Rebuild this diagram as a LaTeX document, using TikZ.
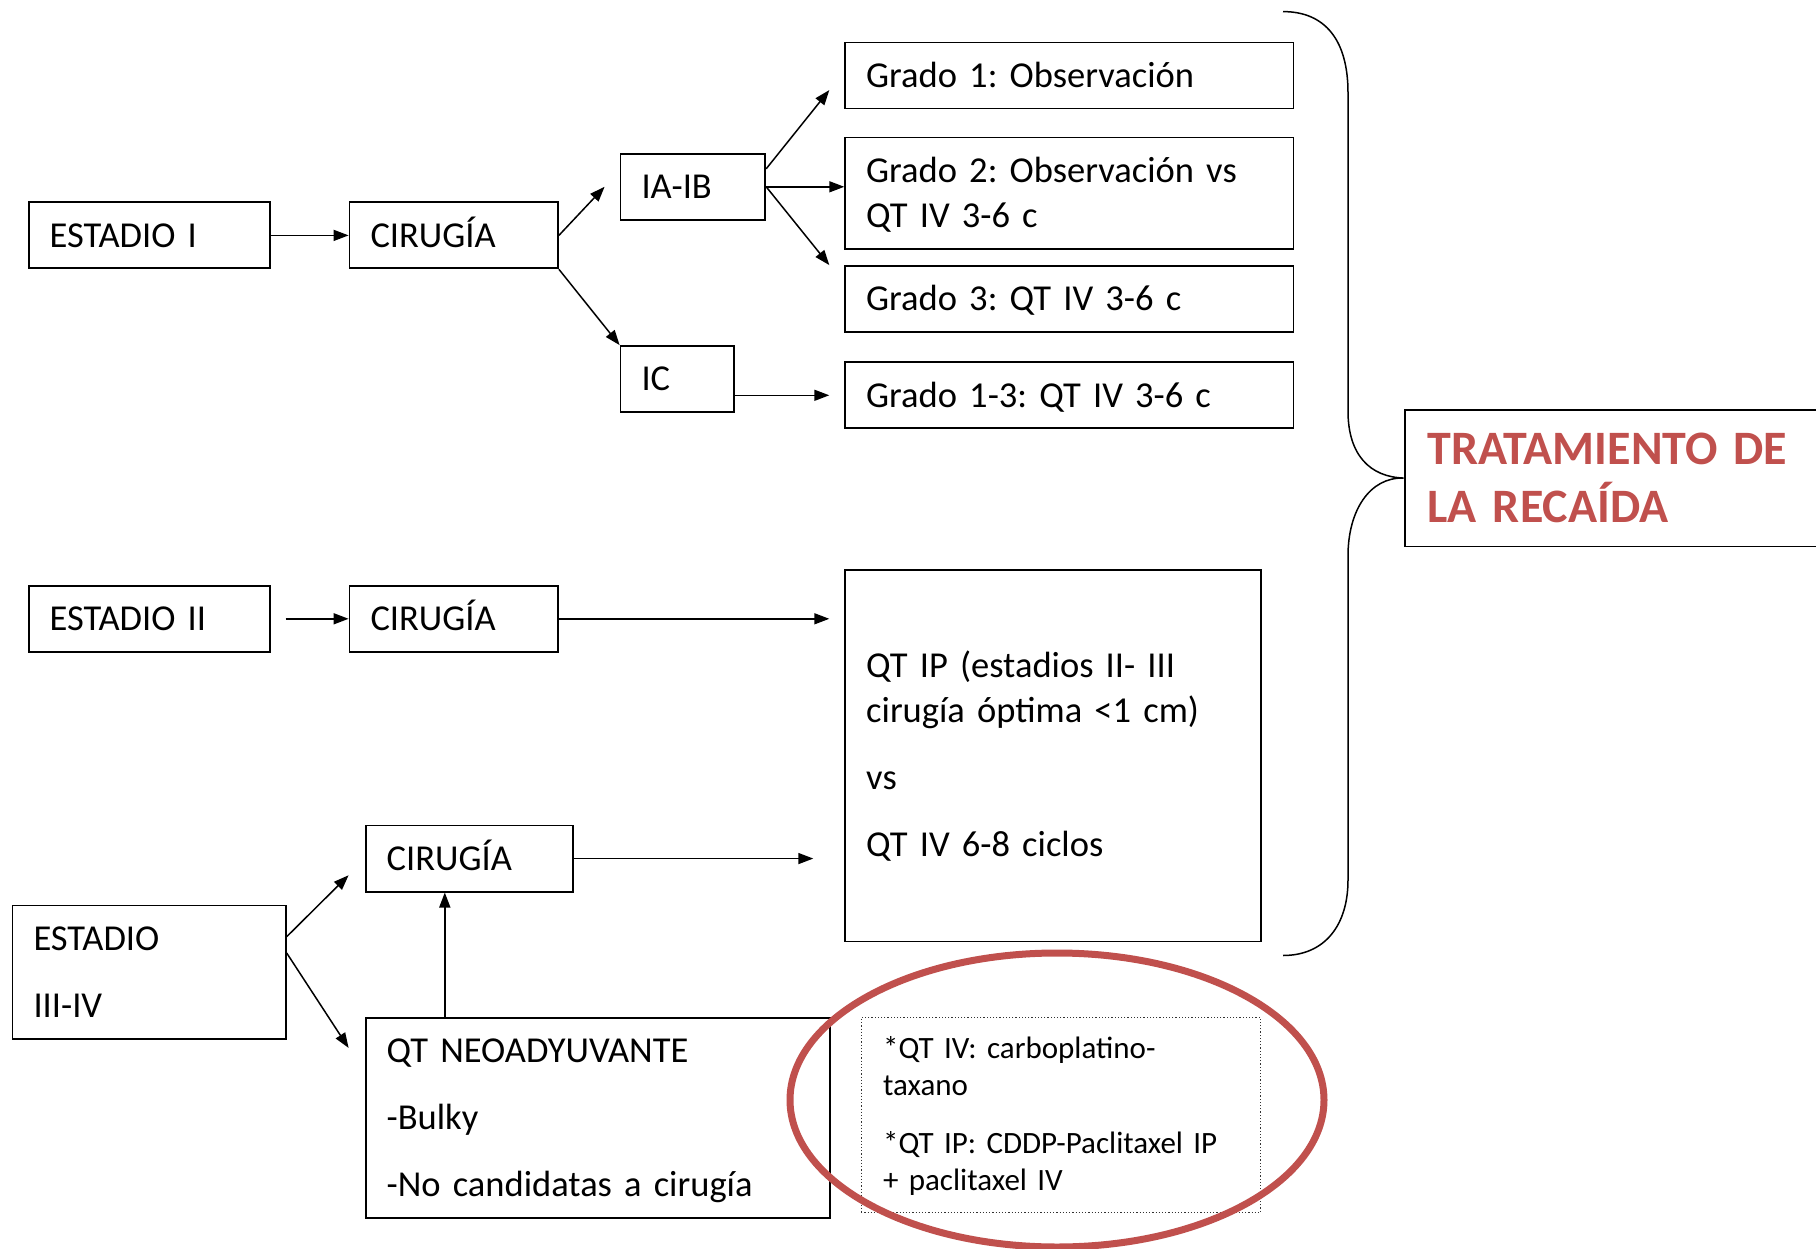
\documentclass[tikz,border=0pt]{standalone}
\usepackage{fontspec}
\setmainfont{Carlito}
\usetikzlibrary{arrows.meta,calc,shapes.geometric}
\definecolor{recred}{HTML}{C0504D}
% fixed-height strut so every line is centred the same way
\newcommand{\ls}{\rule[-0.2em]{0pt}{1.044em}}

\begin{document}
\frenchspacing
\begin{tikzpicture}[x=1pt,y=-1pt,
  box/.style={draw, line width=1.8pt, anchor=north west, inner xsep=21pt,
    inner ysep=0pt, align=left, font=\fontsize{36.5}{45}\selectfont\frenchspacing},
  notebox/.style={draw=black!80, dotted, line width=1.2pt, anchor=north west,
    inner xsep=22pt, inner ysep=0pt, align=left, font=\fontsize{31}{37}\selectfont\frenchspacing},
  arr/.style={line width=1.5pt, -{Triangle[length=15pt,width=11pt]}},
]
\useasboundingbox (0,0) rectangle (1816,1249);

% ---- Estadio I ----
\node[box, minimum width=241pt, text width=199pt, minimum height=66pt] (e1) at (27.8,201.5) {\ls ESTADIO I};
\node[box, minimum width=208.5pt, text width=166.5pt, minimum height=66pt] (c1) at (348.6,201.5) {\ls CIRUGÍA};
\node[box, minimum width=144.8pt, text width=102.8pt, minimum height=66pt] (iaib) at (619.6,152.9) {\ls IA-IB};
\node[box, minimum width=113.5pt, text width=71.5pt, minimum height=66pt] (ic) at (619.6,345.1) {\ls IC};
\node[box, minimum width=448.2pt, text width=406.2pt, minimum height=66pt] (g1) at (844.3,41.7) {\ls Grado 1: Observación};
\node[box, minimum width=448.2pt, text width=406.2pt, minimum height=111.2pt] (g2) at (844.3,136.7) {\ls Grado 2: Observación vs\\\ls QT IV 3-6 c};
\node[box, minimum width=448.2pt, text width=406.2pt, minimum height=66pt] (g3) at (844.3,265.2) {\ls Grado 3: QT IV 3-6 c};
\node[box, minimum width=448.2pt, text width=406.2pt, minimum height=66pt] (g13) at (844.3,361.4) {\ls Grado 1-3: QT IV 3-6 c};

% ---- Tratamiento de la recaída ----
\node[box, inner xsep=23pt, minimum width=440pt, text width=394pt, minimum height=136.7pt,
  font=\fontsize{48}{58}\selectfont\bfseries\frenchspacing, text=recred] (trat) at (1403.7,408.8)
  {\ls TRATAMIENTO DE\\\ls LA RECAÍDA};

% ---- Estadio II ----
\node[box, minimum width=241pt, text width=199pt, minimum height=66pt] (e2) at (27.8,584.9) {\ls ESTADIO II};
\node[box, minimum width=208.5pt, text width=166.5pt, minimum height=66pt] (c2) at (348.6,584.9) {\ls CIRUGÍA};
\node[box, minimum width=415.8pt, text width=373.8pt, minimum height=371.8pt] (qtip) at (844.3,568.7)
  {\ls QT IP (estadios II- III\\\ls cirugía óptima <1 cm)\\[22pt]\ls vs\\[22pt]\ls QT IV 6-8 ciclos};

% ---- Estadio III-IV ----
\node[box, minimum width=207.4pt, text width=165.4pt, minimum height=66.1pt] (c3) at (364.8,824.6) {\ls CIRUGÍA};
\node[box, minimum width=273.3pt, text width=231.3pt, minimum height=133.2pt] (e34) at (11.6,904.5)
  {\ls ESTADIO\\[22pt]\ls III-IV};
\node[box, minimum width=464.5pt, text width=422.5pt, minimum height=200.4pt] (neo) at (364.8,1016.9)
  {\ls QT NEOADYUVANTE\\[22pt]\ls -Bulky\\[22pt]\ls -No candidatas a cirugía};

% ---- footnote on the regimens ----
\node[notebox, minimum width=399.6pt, text width=355.6pt, minimum height=194.6pt] (note) at (860.5,1016.9)
  {\ls *QT IV: carboplatino-\\\ls taxano\\[21pt]\ls *QT IP: CDDP-Paclitaxel IP\\\ls + paclitaxel IV};
\node[draw=recred, line width=7pt, ellipse, minimum width=534pt, minimum height=294pt, inner sep=0pt] (ring) at (1057,1100) {};

% ---- connectors ----
\draw[arr] (e1.east) -- (c1.west);
\draw[arr] (c1.east) -- ($(iaib.west)+(-15,0)$);
\draw[arr] (c1.south east) -- (ic.north west);
\draw[arr] ($(iaib.east)+(0,-18)$) -- ($(g1.west)+(-15,14.5)$);
\draw[arr] (iaib.east) -- (iaib.east -| g2.west);
\draw[arr] (iaib.east) -- ($(g3.west)+(-15,-34)$);
\draw[arr] (ic.east |- g13.west) -- ($(g13.west)+(-15,0)$);

\draw[arr] ($(e2.east)+(15,0)$) -- (c2.west);
\draw[arr] (c2.east) -- ($(c2.east -| qtip.west)+(-15,0)$);
\draw[arr] (c3.east) -- ($(c3.east -| qtip.west)+(-31,0)$);
\draw[arr] ($(e34.east)+(0,-35.3)$) -- ($(c3.west)+(-16.2,16.7)$);
\draw[arr] ($(e34.east)+(0,-19)$) -- ($(neo.north west)+(-16.2,31)$);
\coordinate (n1) at ($(neo.north west)+(80,0)$);
\draw[arr] (n1) -- (n1 |- c3.south);

% ---- brace gathering the treatments ----
\draw[line width=1.5pt] (1283,11.6) .. controls (1325,11.6) and (1348,40) .. (1348,92.7)
  -- (1348,411) .. controls (1348,455) and (1370,477) .. (trat.west)
  .. controls (1370,477) and (1348,510) .. (1348,556)
  -- (1348,880) .. controls (1348,925) and (1325,955.5) .. (1283,955.5);
\end{tikzpicture}
\end{document}
